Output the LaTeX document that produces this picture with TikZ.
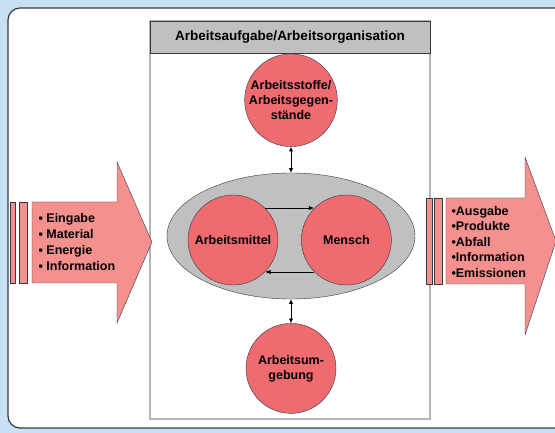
\documentclass[tikz,border=0pt]{standalone}
\usepackage{fontspec}
\setmainfont{Liberation Sans}
\usepackage{tikz}
\usetikzlibrary{arrows.meta,positioning,shapes.geometric}
\definecolor{SysBlue}{HTML}{C8E0F4}
\definecolor{SysRed}{HTML}{EE6B6F}
\definecolor{SysPink}{HTML}{F4908E}
\definecolor{SysGray}{HTML}{C0C0C0}
\definecolor{SysFrame}{HTML}{B4B4B4}
\definecolor{SysDark}{HTML}{333A44}
\begin{document}
\begin{tikzpicture}[x=1pt,y=-1pt,every node/.style={font=\bfseries\fontsize{12.5}{15}\selectfont},
  circ/.style={circle,draw=SysDark,fill=SysRed,minimum size=90pt,inner sep=0pt,align=center},
  dbl/.style={{Latex[length=1.6mm,width=1.5mm]}-{Latex[length=1.6mm,width=1.5mm]},thick},
  arr/.style={-{Latex[length=2mm]},thick},
  bigarr/.style={draw=SysDark,fill=SysPink}]
\useasboundingbox (0,0) rectangle (555,433);
\fill[SysBlue] (0,0) rectangle (555,433);
\begin{scope}
\clip (0,0) rectangle (555,433);
\draw[SysDark,line width=1.2pt,fill=white,rounded corners=12pt] (8,8) rectangle (590,428);
\end{scope}
% system frame
\draw[SysFrame,line width=1.5pt] (150,21) rectangle (430,419);
\node[draw=SysDark,fill=SysGray,minimum width=280pt,minimum height=32pt,inner sep=0pt,font=\bfseries\fontsize{13.5}{16}\selectfont] (head) at (290,37) {Arbeitsaufgabe/Arbeitsorganisation};
\node[ellipse,draw=SysDark,fill=SysGray,minimum width=248pt,minimum height=126pt] (ring) at (291,236) {};
\node[circ] (mittel) at (233,240) {Arbeitsmittel};
\node[circ,right=23pt of mittel] (mensch) {Mensch};
\node[circ,above=26pt of ring] (stoffe) {Arbeitsstoffe/\\Arbeitsgegen-\\stände};
\node[circ,below=24pt of ring] (umg) {Arbeitsum-\\gebung};
\draw[dbl] (stoffe) -- (ring);
\draw[dbl] (ring) -- (umg);
\draw[arr] (mittel.45) -- (mensch.135);
\draw[arr] (mensch.-135) -- (mittel.-45);
% input / output
\draw[bigarr] (32,202) -- (117,202) -- (117,162) -- (152,242) -- (117,323) -- (117,283) -- (32,283) -- cycle;
\draw[bigarr] (10,202) rectangle (15,283) (19,202) rectangle (27,283);
\node[anchor=west,align=left,font=\bfseries\fontsize{12.5}{16}\selectfont] (inlist) at (35,242) {▪ Eingabe\\▪ Material\\▪ Energie\\▪ Information};
\draw[bigarr] (446,198) -- (525,198) -- (525,157) -- (556,241) -- (525,335) -- (525,284) -- (446,284) -- cycle;
\draw[bigarr] (426,198) rectangle (432,284) (434,198) rectangle (442,284);
\node[anchor=west,align=left,font=\bfseries\fontsize{12.5}{15.5}\selectfont] (outlist) at (448,242) {•Ausgabe\\•Produkte\\•Abfall\\•Information\\•Emissionen};
\end{tikzpicture}
\end{document}
